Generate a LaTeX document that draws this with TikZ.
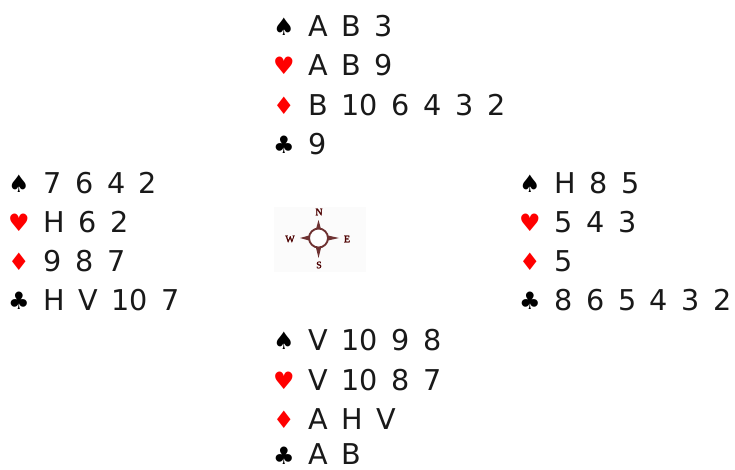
\documentclass[tikz,border=0pt]{standalone}
\usepackage{fontspec}
\setmainfont{DejaVu Sans}
\newfontfamily\cardfont{DejaVu Sans}[WordSpace=1.5]
\newfontfamily\compassfont{Liberation Serif}[FakeBold=2]
\definecolor{compassred}{RGB}{110,50,50}
\begin{document}
\begin{tikzpicture}[x=0.75pt,y=-0.75pt]
\tikzstyle{suitblack}=[anchor=base,inner sep=0pt,text=black,font=\fontsize{18}{18}\selectfont]
\tikzstyle{suitred}=[suitblack,text=red]
\tikzstyle{cards}=[anchor=base west,inner sep=0pt,text=black!90,font=\cardfont\fontsize{21.5}{22}\selectfont]
\tikzstyle{compass}=[inner sep=0pt,text=black!70!red,font=\compassfont\fontsize{7.5}{8}\selectfont]
\useasboundingbox (0,0) rectangle (735,469);
% north
\node[suitblack] (ns) at (284,35) {♠};
\node[suitred] (nh) at (284,74) {♥};
\node[suitred] (nd) at (284,114) {♦};
\node[suitblack] (nc) at (284,153) {♣};
\node[cards] (nsc) at (308,36) {A B 3};
\node[cards] (nhc) at (308,75) {A B 9};
\node[cards] (ndc) at (308,115) {B 10 6 4 3 2};
\node[cards] (ncc) at (308,154) {9};
% west
\node[suitblack] (ws) at (19,192) {♠};
\node[suitred] (wh) at (19,231) {♥};
\node[suitred] (wd) at (19,270) {♦};
\node[suitblack] (wc) at (19,309) {♣};
\node[cards] (wsc) at (43,193) {7 6 4 2};
\node[cards] (whc) at (43,232) {H 6 2};
\node[cards] (wdc) at (43,271) {9 8 7};
\node[cards] (wcc) at (43,310) {H V 10 7};
% east
\node[suitblack] (es) at (530,192) {♠};
\node[suitred] (eh) at (530,231) {♥};
\node[suitred] (ed) at (530,270) {♦};
\node[suitblack] (ec) at (530,309) {♣};
\node[cards] (esc) at (554,193) {H 8 5};
\node[cards] (ehc) at (554,232) {5 4 3};
\node[cards] (edc) at (554,271) {5};
\node[cards] (ecc) at (554,310) {8 6 5 4 3 2};
% south
\node[suitblack] (ss) at (284,349) {♠};
\node[suitred] (sh) at (284,389) {♥};
\node[suitred] (sd) at (284,428) {♦};
\node[suitblack] (sc) at (284,464) {♣};
\node[cards] (ssc) at (308,350) {V 10 9 8};
\node[cards] (shc) at (308,390) {V 10 8 7};
\node[cards] (sdc) at (308,429) {A H V};
\node[cards] (scc) at (308,464) {A B};
% compass
\fill[black!1.5] (274,207) rectangle (366,272);
\fill[compassred] (318.5,220) -- (321,229) -- (316,229) -- cycle;
\fill[compassred] (318.5,258) -- (321,248) -- (316,248) -- cycle;
\fill[compassred] (300,238) -- (309,235.5) -- (309,240.5) -- cycle;
\fill[compassred] (339,238) -- (328,235.5) -- (328,240.5) -- cycle;
\draw[compassred,fill=white,line width=1.4pt] (318.5,238) circle (9.5);
\node[compass] (cn) at (319,212) {N};
\node[compass] (cs) at (319,265) {S};
\node[compass] (cw) at (290,239) {W};
\node[compass] (ce) at (347,239) {E};
\end{tikzpicture}
\end{document}
